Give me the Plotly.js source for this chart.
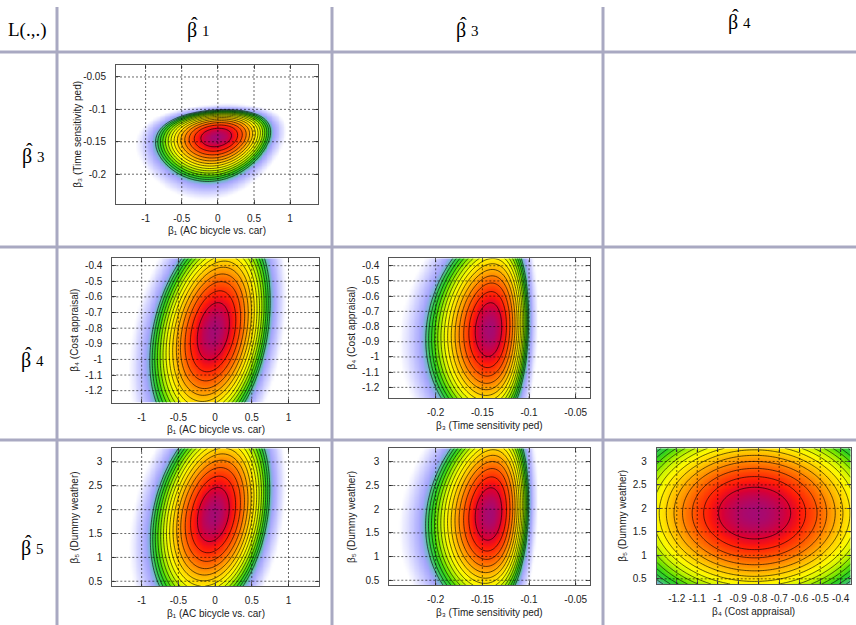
<!DOCTYPE html>
<html><head><meta charset="utf-8">
<script src="https://cdn.plot.ly/plotly-3.0.1.min.js"></script>
<style>html,body{margin:0;padding:0;background:#fff}</style>
</head><body><div id="chart" style="width:856px;height:625px"></div>
<script>
// ---- values ----
const paramLabels = ['β₁ (AC bicycle vs. car)', 'β₃ (Time sensitivity ped)',
                     'β₄ (Cost appraisal)', 'β₅ (Dummy weather)'];
const estimates  = [-0.02, -0.1425, -0.82, 1.9];     // centre of the likelihood
const ringWidth  = [0.21, 0.0141, 0.176, 0.55];      // half-width of the innermost contour
const skewWall   = [6.8, 0.11, null, null];          // asymmetry (distance to steep side)
const panelXParam = [0, 0, 1, 0, 1, 2];
const panelYParam = [1, 2, 2, 3, 3, 3];
const panelCorr   = [0.15, 0.28, 0.1, 0.25, 0.12, 0.0];
const xRanges = [[-1.41,1.39],[-1.4,1.42],[-0.2497,-0.0347],[-1.4,1.42],[-0.2497,-0.0347],[-1.298,-0.351]];
const yRanges = [[-0.246,-0.032],[-1.277,-0.353],[-1.272,-0.351],[0.40,3.287],[0.40,3.287],[0.39,3.28]];
const ticksB1  = [-1, -0.5, 0, 0.5, 1];
const ticksB3x = [-0.2, -0.15, -0.1, -0.05];
const ticksB3y = [-0.05, -0.1, -0.15, -0.2];
const ticksB4  = [-1.2, -1.1, -1, -0.9, -0.8, -0.7, -0.6, -0.5, -0.4];
const ticksB5  = [0.5, 1, 1.5, 2, 2.5, 3];
const contourStart = 1, contourEnd = 14, contourStep = 1;
const cornerLabel = 'L(.,.)';
const colHeaders = ['1', '3', '4'];
const rowHeaders = ['3', '4', '5'];

// ---- layout constants ----
const W = 856, H = 625;
const frames = [[116,318.3,65.3,204],[112.3,319.3,258.3,402.7],[389.3,590,258.3,398.3],
                [112.3,319.3,448.3,586],[389.3,590,448.3,585],[656.7,850.7,448.3,584]];
const xTicks = [ticksB1, ticksB1, ticksB3x, ticksB1, ticksB3x, ticksB4];
const yTicks = [ticksB3y, ticksB4, ticksB4, ticksB5, ticksB5, ticksB5];
// [left edge of beta, baseline of beta] in px
const colHeaderPos = [[186,38],[455,38],[727,30]];
const rowHeaderPos = [[21,164],[20,368],[20,556]];
const KMAX = 24;
const cs = [[0,'rgb(165,10,115)'],[0.8,'rgb(215,0,55)'],[1.6,'rgb(255,25,10)'],[3,'rgb(255,90,0)'],
            [4.5,'rgb(255,155,0)'],[6,'rgb(255,210,0)'],[7.5,'rgb(255,250,0)'],[9,'rgb(205,245,0)'],
            [10.5,'rgb(120,230,0)'],[12,'rgb(45,210,30)'],[13.5,'rgb(60,200,95)'],[14.6,'rgb(120,180,210)'],
            [16,'rgb(165,165,252)'],[19,'rgb(202,202,255)'],[22,'rgb(236,236,255)'],[24,'rgb(255,255,255)']]
           .map(([k,c]) => [k/KMAX, c]);

function scaled(p, v) {
  const d = v - estimates[p], w = skewWall[p], s = ringWidth[p];
  if (w === null) return d / s;
  const r = d / w;
  if (r >= 0.999) return 1e3;
  return -w * Math.log(1 - r) / s;
}
function linspace(a, b, n) { const o = []; for (let i = 0; i < n; i++) o.push(a + (b - a) * i / (n - 1)); return o; }

const data = [], shapes = [], annotations = [];
const sans = 'Liberation Sans, Arial, DejaVu Sans, sans-serif';
const layout = { width: W, height: H, margin: {l:0,r:0,t:0,b:0}, paper_bgcolor: '#fff', plot_bgcolor: '#fff',
                 showlegend: false, font: {family: sans, size: 10, color: '#222'} };
const X = px => px / W, Y = py => 1 - py / H;

for (let i = 0; i < 6; i++) {
  const px = panelXParam[i], py = panelYParam[i], c = panelCorr[i];
  const xs = linspace(xRanges[i][0], xRanges[i][1], 120);
  const ys = linspace(yRanges[i][0], yRanges[i][1], 90);
  const z = ys.map(yv => { const uy = scaled(py, yv);
    return xs.map(xv => { const ux = scaled(px, xv); return Math.min(KMAX, ux*ux - 2*c*ux*uy + uy*uy); }); });
  const xa = i === 0 ? 'x' : 'x' + (i + 1), ya = i === 0 ? 'y' : 'y' + (i + 1);
  data.push({type: 'heatmap', x: xs, y: ys, z: z, xaxis: xa, yaxis: ya, colorscale: cs, zmin: 0, zmax: KMAX,
             zsmooth: 'best', showscale: false, hoverinfo: 'skip'});
  data.push({type: 'contour', x: xs, y: ys, z: z, xaxis: xa, yaxis: ya, showscale: false, hoverinfo: 'skip',
             autocontour: false, contours: {coloring: 'none', start: contourStart, end: contourEnd, size: contourStep},
             line: {color: 'rgba(0,0,0,0.78)', width: 0.8, smoothing: 1}});
  const f = frames[i];
  const common = {showgrid: false, zeroline: false, showline: true, mirror: 'ticks', linecolor: '#555', linewidth: 1,
                  ticks: 'inside', ticklen: 4, tickcolor: '#555', tickmode: 'array',
                  tickfont: {family: sans, size: 10, color: '#222'}};
  layout[i === 0 ? 'xaxis' : 'xaxis' + (i + 1)] = Object.assign({}, common, {
    domain: [X(f[0]), X(f[1])], range: xRanges[i], anchor: ya,
    tickvals: xTicks[i], ticktext: xTicks[i].map(String), ticklabelstandoff: 5});
  layout[i === 0 ? 'yaxis' : 'yaxis' + (i + 1)] = Object.assign({}, common, {
    domain: [Y(f[3]), Y(f[2])], range: yRanges[i], anchor: xa,
    tickvals: yTicks[i], ticktext: yTicks[i].map(String), ticklabelstandoff: 7});
  // grid lines drawn above the colour map
  const gl = {color: 'rgba(0,0,0,0.75)', width: 0.8, dash: '2px,2px'};
  xTicks[i].forEach(t => shapes.push({type: 'line', layer: 'above', xref: xa, yref: ya + ' domain', x0: t, x1: t, y0: 0, y1: 1, line: gl}));
  yTicks[i].forEach(t => shapes.push({type: 'line', layer: 'above', xref: xa + ' domain', yref: ya, x0: 0, x1: 1, y0: t, y1: t, line: gl}));
  // axis titles
  annotations.push({xref: 'paper', yref: 'paper', x: X((f[0] + f[1]) / 2), y: Y(f[3] + 27), text: paramLabels[px],
                    showarrow: false, xanchor: 'center', yanchor: 'middle', font: {size: 10, color: '#222'}});
  annotations.push({xref: 'paper', yref: 'paper', x: X(f[0] - (i === 5 ? 35 : 38)), y: Y((f[2] + f[3]) / 2), text: paramLabels[py],
                    textangle: -90, showarrow: false, xanchor: 'center', yanchor: 'middle', font: {size: 10, color: '#222'}});
}

// table lines
const tl = {color: '#a9a9c2', width: 3};
[57, 332, 603].forEach(x => shapes.push({type: 'line', xref: 'paper', yref: 'paper', x0: X(x), x1: X(x), y0: Y(7), y1: 0, line: tl}));
[52, 247, 440].forEach(y => shapes.push({type: 'line', xref: 'paper', yref: 'paper', x0: 0, x1: 1, y0: Y(y), y1: Y(y), line: tl}));

// header texts: hat over beta (one two-line label, tight line spacing) plus a spaced subscript
const serif = 'Liberation Serif, Times New Roman, serif';
function hatBeta(pos, sub) {
  const [bx, base] = pos;
  annotations.push({xref: 'paper', yref: 'paper', x: X(bx), y: Y(base + 5), align: 'left', borderpad: 0,
                    text: '<span style="font-size:20px">\u2009ˆ</span><br><span style="font-size:20px">β</span>',
                    showarrow: false, xanchor: 'left', yanchor: 'bottom', font: {family: serif, size: 4, color: '#000'}});
  annotations.push({xref: 'paper', yref: 'paper', x: X(bx + 14.5), y: Y(base + 2), text: sub, showarrow: false, borderpad: 0,
                    xanchor: 'left', yanchor: 'bottom', font: {family: serif, size: 15, color: '#000'}});
}
annotations.push({xref: 'paper', yref: 'paper', x: X(28), y: Y(30), text: cornerLabel, showarrow: false,
                  xanchor: 'center', yanchor: 'middle', font: {family: serif, size: 19, color: '#000'}});
colHeaders.forEach((s, j) => hatBeta(colHeaderPos[j], s));
rowHeaders.forEach((s, j) => hatBeta(rowHeaderPos[j], s));

layout.shapes = shapes;
layout.annotations = annotations;
Plotly.newPlot('chart', data, layout, {staticPlot: true, displayModeBar: false});
</script></body></html>
